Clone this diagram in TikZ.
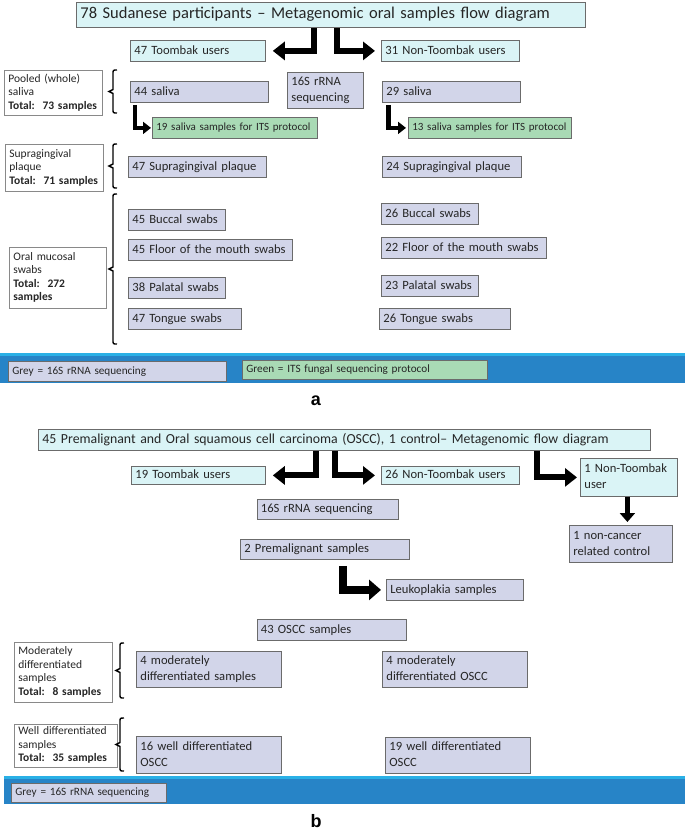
\documentclass[tikz,border=0pt]{standalone}
\usepackage{fontspec}
\setmainfont{Carlito}
\newfontfamily\labfont{Liberation Sans}
\usetikzlibrary{arrows.meta}
\pgfdeclarelayer{background}
\pgfsetlayers{background,main}
\definecolor{cyanfill}{HTML}{DAF4F6}
\definecolor{greyfill}{HTML}{D2D5E9}
\definecolor{greenfill}{HTML}{A9DAB5}
\definecolor{bordc}{HTML}{6B6B6B}
\definecolor{bandblue}{HTML}{2784C7}
\definecolor{bandtop}{HTML}{2AB0E6}
\definecolor{txt}{HTML}{262626}
% style, name, x1, y1, x2, y2, text
\newcommand\bx[7]{%
  \pgfmathsetmacro\bxw{#5-#3}%
  \pgfmathsetmacro\bxh{#6-#4}%
  \pgfmathsetmacro\bxt{#5-#3-8}%
  \node[#1, anchor=north west, minimum width=\bxw pt, minimum height=\bxh pt, text width=\bxt pt] (#2) at (#3,#4) {\begin{tabular}{@{}l@{}}#7\end{tabular}};}
% x, y1, y2
\newcommand\brk[3]{%
  \pgfmathsetmacro\brm{(#2+#3)/2}%
  \draw[brkline] (#1+4,#2) .. controls (#1,#2) .. (#1,#2+4) -- (#1,\brm-2) -- (#1-4,\brm) -- (#1,\brm+2) -- (#1,#3-4) .. controls (#1,#3) .. (#1+4,#3);}
\begin{document}
\begin{tikzpicture}[x=1pt,y=-1pt,
  cbox/.style={draw=bordc, fill=cyanfill, line width=0.8pt, inner xsep=4pt, inner ysep=1pt, align=left, text=txt, font=\fontsize{12.6}{16}\selectfont},
  gbox/.style={cbox, fill=greyfill},
  grnbox/.style={cbox, fill=greenfill, font=\fontsize{11}{13}\selectfont},
  wbox/.style={cbox, fill=white, draw=bordc!80, font=\fontsize{11.5}{13.5}\selectfont},
  legbox/.style={gbox, font=\fontsize{11.2}{14}\selectfont},
  fatarrow/.style={line width=6pt, -{Triangle[length=12pt,width=18pt]}, line join=miter},
  midarrow/.style={line width=4.5pt, -{Triangle[length=8pt,width=12pt]}, line join=miter},
  premarrow/.style={line width=8pt, -{Triangle[length=12pt,width=20pt]}, line join=miter},
  downarrow/.style={line width=5pt, -{Triangle[length=9pt,width=15pt]}},
  vline/.style={line width=1.3pt, black},
  brkline/.style={line width=1.4pt, black},
  sublabel/.style={font=\fontsize{18}{20}\selectfont\labfont\bfseries, text=black}
]
\useasboundingbox (0,0) rectangle (685,830);
\fill[white] (0,0) rectangle (685,830);

% ---------- bands ----------
\fill[bandblue] (0,353) rectangle (685,383);
\fill[bandtop] (0,353) rectangle (685,356);
\fill[bandblue] (3.5,776) rectangle (685,804);
\fill[bandtop] (3.5,776) rectangle (685,779);

% ---------- part a ----------
\bx{cbox,font=\fontsize{16.5}{19}\selectfont}{titleA}{76}{2}{585}{27}{78 Sudanese participants – Metagenomic oral samples flow diagram}
\bx{cbox}{toombakA}{130}{40}{265}{61}{47 Toombak users}
\bx{cbox}{nontoombakA}{381}{40}{519}{61}{31 Non-Toombak users}
\bx{wbox}{pooled}{4}{70}{102}{115}{Pooled (whole)\\saliva\\\textbf{Total:\ \ 73 samples}}
\bx{gbox}{sal44}{130}{81}{268}{102}{44 saliva}
\bx{gbox}{seqA}{287}{72}{363}{108}{16S rRNA\\sequencing}
\bx{gbox}{sal29}{382}{81}{520}{102}{29 saliva}
\bx{grnbox}{its19}{152}{117}{317}{138}{19 saliva samples for ITS protocol}
\bx{grnbox}{its13}{408}{117}{571}{138}{13 saliva samples for ITS protocol}
\bx{wbox}{supra}{5}{144}{103}{191}{Supragingival\\plaque\\\textbf{Total:\ \ 71 samples}}
\bx{gbox}{sup47}{128}{156}{266}{177}{47 Supragingival plaque}
\bx{gbox}{sup24}{382}{156}{521}{177}{24 Supragingival plaque}
\bx{wbox}{oral}{9}{247}{106}{308}{Oral mucosal\\swabs\\\textbf{Total:\ \ 272}\\\textbf{samples}}
\bx{gbox}{buc45}{128}{209}{225}{230}{45 Buccal swabs}
\bx{gbox}{flo45}{128}{239}{292}{260}{45 Floor of the mouth swabs}
\bx{gbox}{pal38}{128}{277}{225}{298}{38 Palatal swabs}
\bx{gbox}{ton47}{128}{308}{241}{329}{47 Tongue swabs}
\bx{gbox}{buc26}{381}{203}{478}{224}{26 Buccal swabs}
\bx{gbox}{flo22}{381}{237}{546}{258}{22 Floor of the mouth swabs}
\bx{gbox}{pal23}{381}{275}{478}{296}{23 Palatal swabs}
\bx{gbox}{ton26}{379}{308}{510}{329}{26 Tongue swabs}
\bx{legbox}{legGreyA}{8}{361}{226}{381}{Grey = 16S rRNA sequencing}
\bx{legbox,fill=greenfill}{legGreenA}{242}{360}{487}{379}{Green = ITS fungal sequencing protocol}
\node[sublabel] (laba) at (316,401) {a};

\coordinate (endA) at (323,350);
\begin{pgfonlayer}{background}
\draw[vline] ([xshift=-7.5pt]titleA.south) -- (endA);
\end{pgfonlayer}
\draw[fatarrow] ([xshift=-16.5pt]titleA.south) |- ([xshift=7pt]toombakA.east);
\draw[fatarrow] ([xshift=6pt]titleA.south) |- ([xshift=-6pt]nontoombakA.west);
\draw[midarrow] ([xshift=-64.5pt,yshift=-2pt]sal44.south) |- ([xshift=-1pt]its19.west);
\draw[midarrow] ([xshift=-63pt,yshift=-2pt]sal29.south) |- ([xshift=-2pt]its13.west);
\brk{113}{70}{113}
\brk{113}{144}{188}
\brk{113}{194}{344}

% ---------- part b ----------
\bx{cbox,font=\fontsize{13.8}{16}\selectfont}{titleB}{38}{429}{650}{450}{45 Premalignant and Oral squamous cell carcinoma (OSCC), 1 control– Metagenomic flow diagram}
\bx{cbox}{toombakB}{131}{466}{265}{484}{19 Toombak users}
\bx{cbox}{nontoombakB}{381}{466}{519}{484}{26 Non-Toombak users}
\bx{cbox}{ntone}{580}{458}{677}{496}{1 Non-Toombak\\user}
\bx{gbox}{ctrl}{569}{525}{672}{562}{1 non-cancer\\related control}
\bx{gbox}{seqB}{256.5}{499}{397.5}{519}{16S rRNA sequencing}
\bx{gbox}{premal}{240}{539}{408.5}{559}{2 Premalignant samples}
\bx{gbox}{leuko}{386}{579}{523}{600}{Leukoplakia samples}
\bx{gbox}{oscc}{256.5}{619}{406}{640}{43 OSCC samples}
\bx{wbox}{modlab}{14}{642}{112}{702}{Moderately\\differentiated\\samples\\\textbf{Total:\ \ 8 samples}}
\bx{gbox}{mod4}{136}{651}{280.5}{687}{4 moderately\\differentiated samples}
\bx{gbox}{modo}{382}{651}{526.5}{687}{4 moderately\\differentiated OSCC}
\bx{wbox}{welllab}{14}{724}{117}{765}{Well differentiated\\samples\\\textbf{Total:\ \ 35 samples}}
\bx{gbox}{well16}{136}{736}{280.5}{773}{16 well differentiated\\OSCC}
\bx{gbox}{well19}{385}{737}{529.5}{773}{19 well differentiated\\OSCC}
\bx{legbox}{legGreyB}{11}{783}{166}{802}{Grey = 16S rRNA sequencing}
\node[sublabel] (labb) at (316,821) {b};

\coordinate (endB) at (323,772);
\begin{pgfonlayer}{background}
\draw[vline] ([xshift=-21pt]titleB.south) -- (endB);
\end{pgfonlayer}
\draw[fatarrow] ([xshift=-28pt]titleB.south) |- ([xshift=7pt]toombakB.east);
\draw[fatarrow] ([xshift=-9pt]titleB.south) |- ([xshift=-6pt]nontoombakB.west);
\draw[fatarrow] ([xshift=193pt]titleB.south) |- ([xshift=-3pt]ntone.west);
\draw[downarrow] ([xshift=-1.5pt]ntone.south) -- ([xshift=-1.5pt,yshift=3pt]ntone.south |- ctrl.north);
\draw[premarrow] ([xshift=18pt,yshift=-6pt]premal.south) |- ([xshift=-5pt]leuko.west);
\brk{120}{643}{698}
\brk{120}{718}{771}
\end{tikzpicture}
\end{document}
